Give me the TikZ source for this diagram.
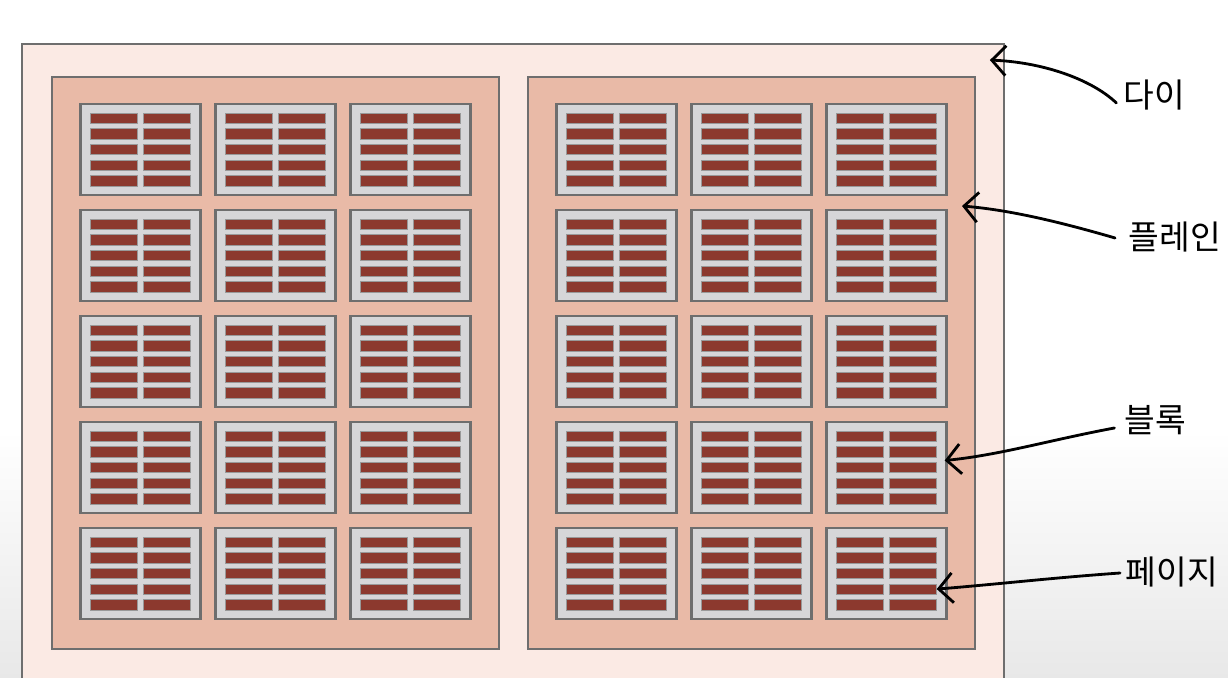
\documentclass[tikz,border=0pt]{standalone}
\usepackage{fontspec}
\newfontfamily\kofont{Noto Sans CJK KR}
\usetikzlibrary{arrows.meta, calc}

\definecolor{frame}{HTML}{6E6E6E}
\definecolor{diefill}{HTML}{FBEAE4}
\definecolor{planefill}{HTML}{E9BAA7}
\definecolor{blockfill}{HTML}{D6D6D8}
\definecolor{pagefill}{HTML}{8C392E}

\begin{document}
\begin{tikzpicture}[
    x=0.02cm, y=-0.02cm,
    die/.style={draw=frame, fill=diefill, line width=1.1pt, minimum width=19.64cm, minimum height=13.12cm, inner sep=0pt},
    plane/.style={draw=frame, fill=planefill, line width=1.1pt, minimum width=8.94cm, minimum height=11.44cm, inner sep=0pt},
    blk/.style={draw=frame, fill=blockfill, line width=1.4pt, minimum width=2.4cm, minimum height=1.82cm, inner sep=0pt},
    page/.style={fill=pagefill, draw=frame!70, line width=0.3pt, minimum width=0.94cm, minimum height=0.21cm, inner sep=0pt},
    lbl/.style={font=\kofont\fontsize{19}{22}\selectfont, inner sep=2pt},
    hand/.style={-{Straight Barb[length=8pt, width=17pt]}, line width=1.6pt, line cap=round},
]
\useasboundingbox (0,0) rectangle (1228,678);
\clip (0,0) rectangle (1228,678);
\fill[top color=white, bottom color=black!9] (0,430) rectangle (1228,678);

% die and two planes
\node[die] (die) at (513,372) {};
\foreach \p/\px in {L/275.5, R/751.5} {
  \node[plane] (plane\p) at (\px,363) {};
  % 3 x 5 blocks, each with 2 x 5 pages
  \foreach \c in {1,2,3}
    \foreach \r in {1,...,5} {
      \node[blk] (b\p\c\r) at ({\px-135*(2-\c)}, {149.5+106*(\r-1)}) {};
      \foreach \k in {1,2}
        \foreach \j in {1,...,5}
          \node[page] (pg\p\c\r-\k-\j) at ({\px-135*(2-\c)+53*(\k-1.5)}, {149.5+106*(\r-1)+15.6*(\j-3)}) {};
    }
}

% labels
\node[lbl] (lblDie) at (1154,95) {다이};
\node[lbl] (lblPlane) at (1175,237) {플레인};
\node[lbl] (lblBlock) at (1155,420) {블록};
\node[lbl] (lblPage) at (1172,572) {페이지};

\coordinate (dieTip) at ($(die.north east)+(-15,17)$);
\coordinate (planeTip) at (962,206);

\draw[hand] ($(lblDie.west)+(-3,8)$) .. controls (1090,78) and (1040,62) .. (dieTip);
\draw[hand] ($(lblPlane.west)+(-10,1)$) .. controls (1060,222) and (1010,210) .. (planeTip);
\draw[hand] ($(lblBlock.west)+(-6,8)$) .. controls (1050,440) and (1000,455) .. ($(bR34.east)+(-3,-7)$);
\draw[hand] ($(lblPage.west)+(-2,1)$) .. controls (1050,578) and (1000,584) .. (pgR35-2-4.east);
\end{tikzpicture}
\end{document}
